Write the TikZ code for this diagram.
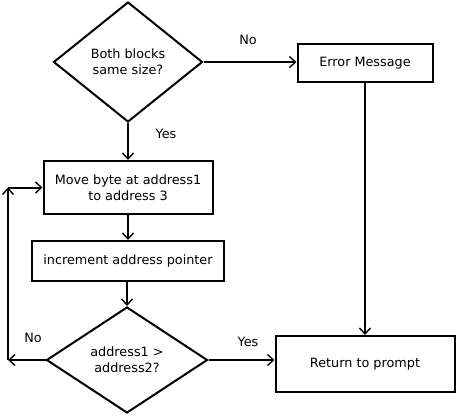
\documentclass[tikz,border=0pt]{standalone}
\usepackage{fontspec}
\setmainfont{DejaVu Sans}
\usetikzlibrary{shapes.geometric,arrows.meta}
\begin{document}
\begin{tikzpicture}[x=1pt,y=-1pt,
  every node/.style={font=\fontsize{12.8}{16}\selectfont, align=center},
  box/.style={draw, line width=2pt, rectangle, inner sep=0pt},
  decision/.style={draw, line width=2pt, diamond, inner sep=0pt, aspect=1},
  conn/.style={line width=2pt, -{Straight Barb[length=6pt,width=11pt,line width=1.4pt]}},
  lbl/.style={inner sep=0pt}]
\useasboundingbox (0,0) rectangle (456,416);
\node[decision, minimum width=149pt, minimum height=120pt] (d1) at (128,62) {Both blocks\\same size?};
\node[box, minimum width=135pt, minimum height=38pt] (err) at (365,63) {Error Message};
\node[box, minimum width=169pt, minimum height=53pt] (move) at (128,187.5) {Move byte at address1\\to address 3};
\node[box, minimum width=192pt, minimum height=40pt] (inc) at (128,261) {increment address pointer};
\node[decision, minimum width=161pt, minimum height=106pt] (d2) at (127,360) {address1 >\\address2?};
\node[box, minimum width=179pt, minimum height=56pt] (ret) at (365,364) {Return to prompt};
\coordinate (l1) at (8,360);
\coordinate (l2) at (8,187.5);
\draw[conn] (d1.east) -- (d1.east -| err.west);
\draw[conn] (d1.south) -- (move.north);
\draw[conn] (move.south) -- (inc.north);
\draw[conn] (inc.south -| d2.north) -- (d2.north);
\draw[conn] (err.south) -- (ret.north);
\draw[conn] (d2.east) -- (d2.east -| ret.west);
\draw[conn] (d2.west) -- (l1);
\draw[conn] (l1) -- (l2);
\draw[conn] (l2) -- (move.west);
\node[lbl] (no1) at (248,40) {No};
\node[lbl] (yes1) at (166,134) {Yes};
\node[lbl] (no2) at (33,338) {No};
\node[lbl] (yes2) at (248,342) {Yes};
\end{tikzpicture}
\end{document}
